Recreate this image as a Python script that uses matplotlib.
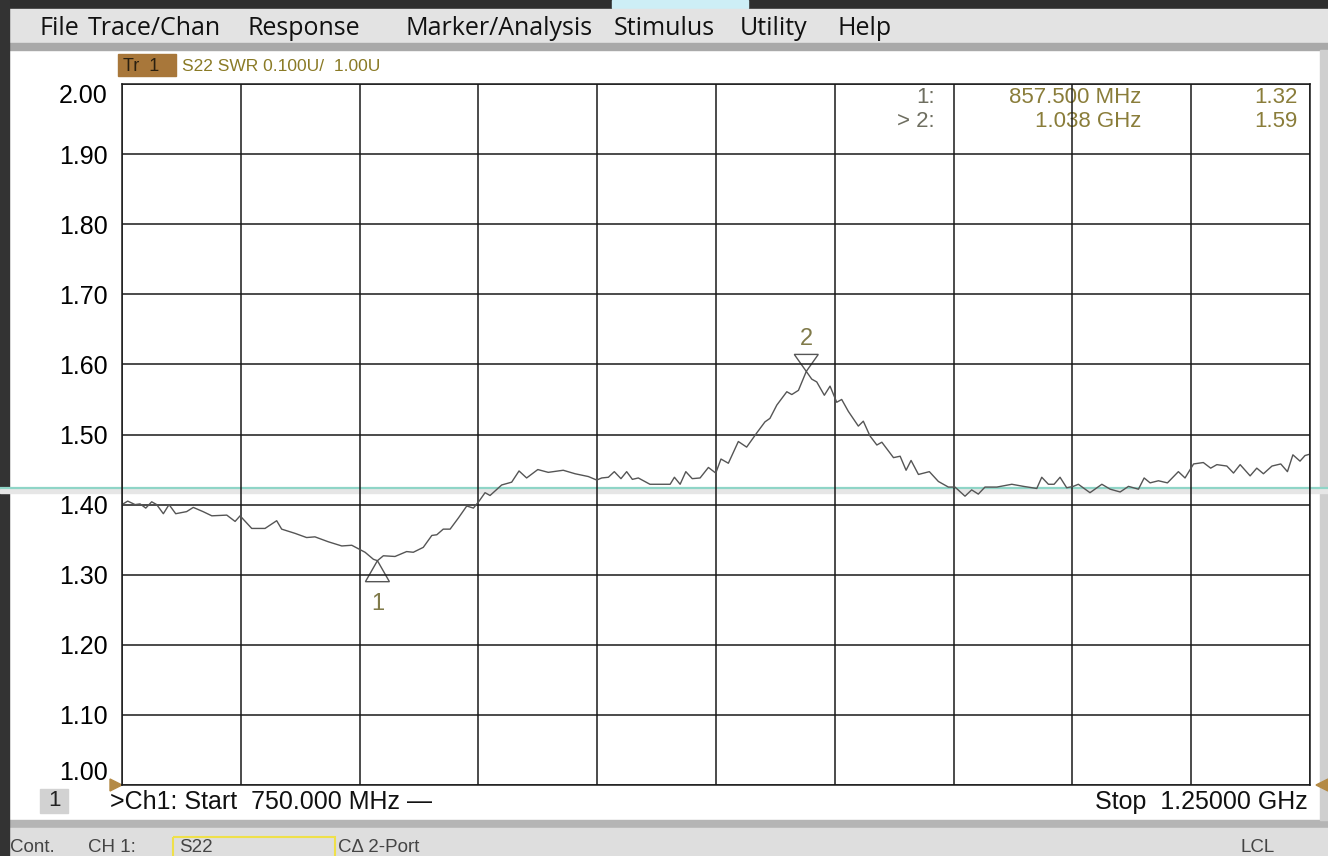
import numpy as np
import matplotlib
matplotlib.use("Agg")
from matplotlib import pyplot as plt
from matplotlib.patches import Rectangle, Polygon
import matplotlib.transforms as mtransforms

plt.rcParams['font.family'] = ['Liberation Sans', 'DejaVu Sans']

# Sweep: 750 MHz .. 1250 MHz, S22 SWR
freq_mhz = [
    750.0, 752.4, 755.5, 757.6, 760.0, 762.5, 764.6, 767.4, 769.8, 772.6,
    777.2, 780.0, 784.1, 787.8, 794.1, 797.6, 799.7, 804.6, 810.2, 815.1,
    817.2, 822.8, 827.7, 831.2, 836.8, 842.5, 846.7, 852.3, 855.8, 857.5,
    860.0, 864.9, 869.8, 872.6, 876.8, 880.4, 882.5, 885.2, 888.1, 891.6,
    895.1, 897.9, 900.3, 902.8, 904.9, 909.8, 914.0, 917.1, 920.3, 925.0,
    929.4, 935.7, 940.7, 946.3, 949.8, 951.9, 954.7, 957.2, 960.0, 962.4,
    964.8, 967.3, 972.2, 980.7, 982.5, 984.9, 987.3, 990.0, 993.3, 996.8,
    999.9, 1002.1, 1005.2, 1009.4, 1012.9, 1017.1, 1020.6, 1022.7, 1025.6, 1029.8,
    1031.9, 1034.7, 1038.0, 1040.3, 1042.4, 1045.6, 1048.0, 1050.8, 1052.9, 1055.7,
    1059.9, 1062.0, 1064.8, 1067.7, 1069.8, 1074.7, 1077.5, 1080.0, 1082.1, 1085.2,
    1089.8, 1093.6, 1097.8, 1100.6, 1104.8, 1107.6, 1110.4, 1113.2, 1118.2, 1124.5,
    1129.4, 1135.0, 1137.1, 1139.9, 1142.3, 1144.8, 1147.6, 1150.4, 1152.5, 1157.4,
    1162.4, 1165.9, 1170.1, 1173.6, 1177.8, 1180.2, 1182.7, 1186.2, 1190.0, 1194.6,
    1197.4, 1201.0, 1205.1, 1208.2, 1210.8, 1215.0, 1217.8, 1220.6, 1224.8, 1227.6,
    1230.4, 1234.0, 1237.7, 1240.5, 1242.8, 1245.8, 1247.9, 1250.0,
]
swr = [
    1.400, 1.405, 1.400, 1.401, 1.395, 1.404, 1.400, 1.387, 1.400, 1.387,
    1.390, 1.396, 1.390, 1.384, 1.385, 1.376, 1.384, 1.366, 1.366, 1.377,
    1.365, 1.359, 1.353, 1.354, 1.347, 1.341, 1.342, 1.332, 1.322, 1.320,
    1.327, 1.326, 1.333, 1.332, 1.339, 1.356, 1.357, 1.365, 1.365, 1.381,
    1.398, 1.395, 1.405, 1.417, 1.413, 1.428, 1.432, 1.448, 1.438, 1.450,
    1.446, 1.449, 1.444, 1.440, 1.435, 1.438, 1.439, 1.447, 1.437, 1.447,
    1.436, 1.438, 1.429, 1.429, 1.439, 1.429, 1.447, 1.437, 1.438, 1.453,
    1.445, 1.465, 1.459, 1.490, 1.482, 1.502, 1.518, 1.523, 1.542, 1.561,
    1.557, 1.563, 1.590, 1.579, 1.575, 1.556, 1.569, 1.546, 1.550, 1.533,
    1.512, 1.519, 1.498, 1.485, 1.489, 1.467, 1.469, 1.449, 1.463, 1.443,
    1.447, 1.433, 1.425, 1.425, 1.412, 1.421, 1.415, 1.425, 1.425, 1.429,
    1.426, 1.423, 1.439, 1.429, 1.429, 1.439, 1.424, 1.426, 1.429, 1.417,
    1.429, 1.422, 1.418, 1.426, 1.422, 1.438, 1.431, 1.434, 1.431, 1.447,
    1.438, 1.458, 1.460, 1.452, 1.457, 1.455, 1.445, 1.457, 1.441, 1.452,
    1.444, 1.455, 1.458, 1.447, 1.471, 1.462, 1.470, 1.472,
]

y_ticks = [1.00, 1.10, 1.20, 1.30, 1.40, 1.50, 1.60, 1.70, 1.80, 1.90, 2.00]
y_labels = ["1.00", "1.10", "1.20", "1.30", "1.40", "1.50", "1.60", "1.70", "1.80", "1.90", "2.00"]

markers = [("1", 857.5, 1.32, "857.500 MHz"), ("2", 1038.0, 1.59, "1.038 GHz")]
menu_items = ["File", "Trace/Chan", "Response", "Marker/Analysis", "Stimulus", "Utility", "Help"]
menu_x = [40, 88, 248, 406, 614, 740, 838]

W, H = 1328, 856
fig = plt.figure(figsize=(W / 100, H / 100), dpi=100)
fig.patch.set_facecolor("white")

# background "screen" layer in pixel coordinates
bg = fig.add_axes([0, 0, 1, 1])
bg.set_xlim(0, W)
bg.set_ylim(H, 0)
bg.axis("off")

bg.add_patch(Rectangle((0, 0), W, 9, color="#2e2e2e"))
bg.add_patch(Rectangle((612, 0), 136, 8, color="#cdeef6"))
bg.add_patch(Rectangle((0, 9), W, 34, color="#e3e3e3"))
bg.add_patch(Rectangle((0, 43), W, 7, color="#a9a9a9"))
bg.add_patch(Rectangle((0, 820), W, 8, color="#b5b5b5"))
bg.add_patch(Rectangle((0, 828), W, 28, color="#dedede"))
bg.add_patch(Rectangle((0, 0), 9, H, color="#333333"))
bg.add_patch(Rectangle((1320, 50), 8, 770, color="#cfcfcf"))

# menu bar (Segoe-like face)
for name, x in zip(menu_items, menu_x):
    bg.text(x, 28, name, fontsize=18, va="center", ha="left", color="#111111",
            family=["Open Sans", "DejaVu Sans"])

# trace header
bg.add_patch(Rectangle((118, 54), 58, 22, color="#a8773a"))
bg.text(123, 66, "Tr  1", fontsize=13, va="center", color="#2a2010")
bg.text(182, 66, "S22 SWR 0.100U/  1.00U", fontsize=12.5, va="center", color="#8a7a25")

# marker readout
for i, (lab, f, v, ftxt) in enumerate(markers):
    yy = 97 + 24 * i
    prefix = "1:" if i == 0 else "> 2:"
    bg.text(935, yy, prefix, fontsize=16, ha="right", va="center", color="#6e6e60")
    bg.text(1141, yy, ftxt, fontsize=16, ha="right", va="center", color="#8a7d3a")
    bg.text(1298, yy, f"{v:.2f}", fontsize=16, ha="right", va="center", color="#8a7d3a")

# bottom channel line
bg.add_patch(Rectangle((40, 789), 28, 24, color="#d2d2d2"))
bg.text(54, 801, "1", fontsize=16, ha="center", va="center", color="#222222")
bg.text(110, 802, ">Ch1: Start  750.000 MHz \u2014", fontsize=18, va="center", color="#111111")
bg.text(1308, 802, "Stop  1.25000 GHz", fontsize=18, ha="right", va="center", color="#111111")

# status bar
bg.text(10, 847, "Cont.", fontsize=13.5, va="center", color="#444444")
bg.text(88, 847, "CH 1:", fontsize=13.5, va="center", color="#444444")
bg.add_patch(Rectangle((173, 837), 162, 22, fill=False, edgecolor="#efe04a", lw=1.5))
bg.text(179, 847, "S22", fontsize=13.5, va="center", color="#444444")
bg.text(338, 847, "C\u0394 2-Port", fontsize=13.5, va="center", color="#444444")
bg.text(1241, 847, "LCL", fontsize=13.5, va="center", color="#444444")

# reference level arrows
bg.add_patch(Polygon([(110, 779), (122, 785), (110, 791)], color="#b48a45"))
bg.add_patch(Polygon([(1328, 779), (1316, 785), (1328, 791)], color="#b48a45"))

# scan artifact line across the screen
bg.add_patch(Rectangle((0, 489), W, 4, color="#e6e6e6"))
bg.plot([0, W], [488, 488], color="#8fd5c7", lw=1.6)

# measurement grid
ax = fig.add_axes([122 / W, 1 - 785 / H, (1310 - 122) / W, (785 - 84) / H])
ax.set_facecolor("none")
ax.set_xlim(750, 1250)
ax.set_ylim(1.0, 2.0)
ax.set_xticks(np.arange(750, 1251, 50))
ax.set_xticklabels([])
ax.set_yticks(y_ticks)
ax.set_yticklabels(y_labels, fontsize=18)
ax.tick_params(length=0, pad=10.5)
tl = ax.get_yticklabels()
tl[0].set_va("bottom")
tl[-1].set_va("top")
ax.grid(True, color="#1a1a1a", lw=1.1)
for s in ax.spines.values():
    s.set_color("#1a1a1a")
    s.set_linewidth(1.1)

ax.plot(freq_mhz, swr, color="#555555", lw=1.0)

# marker triangles
for lab, f, v, ftxt in markers:
    off = mtransforms.ScaledTranslation(f, v, ax.transData)
    tr = fig.dpi_scale_trans + off
    if lab == "1":
        verts = [(0, 0), (-0.12, -0.21), (0.12, -0.21)]
        ty = -0.43
    else:
        verts = [(0, 0), (-0.12, 0.17), (0.12, 0.17)]
        ty = 0.32
    ax.add_patch(Polygon(verts, closed=True, fill=False, edgecolor="#555555", lw=1.0,
                         transform=tr, clip_on=False))
    ax.text(0, ty, lab, transform=tr, ha="center", va="center", fontsize=17, color="#807a4a")

fig.savefig("out.png", dpi=100)
